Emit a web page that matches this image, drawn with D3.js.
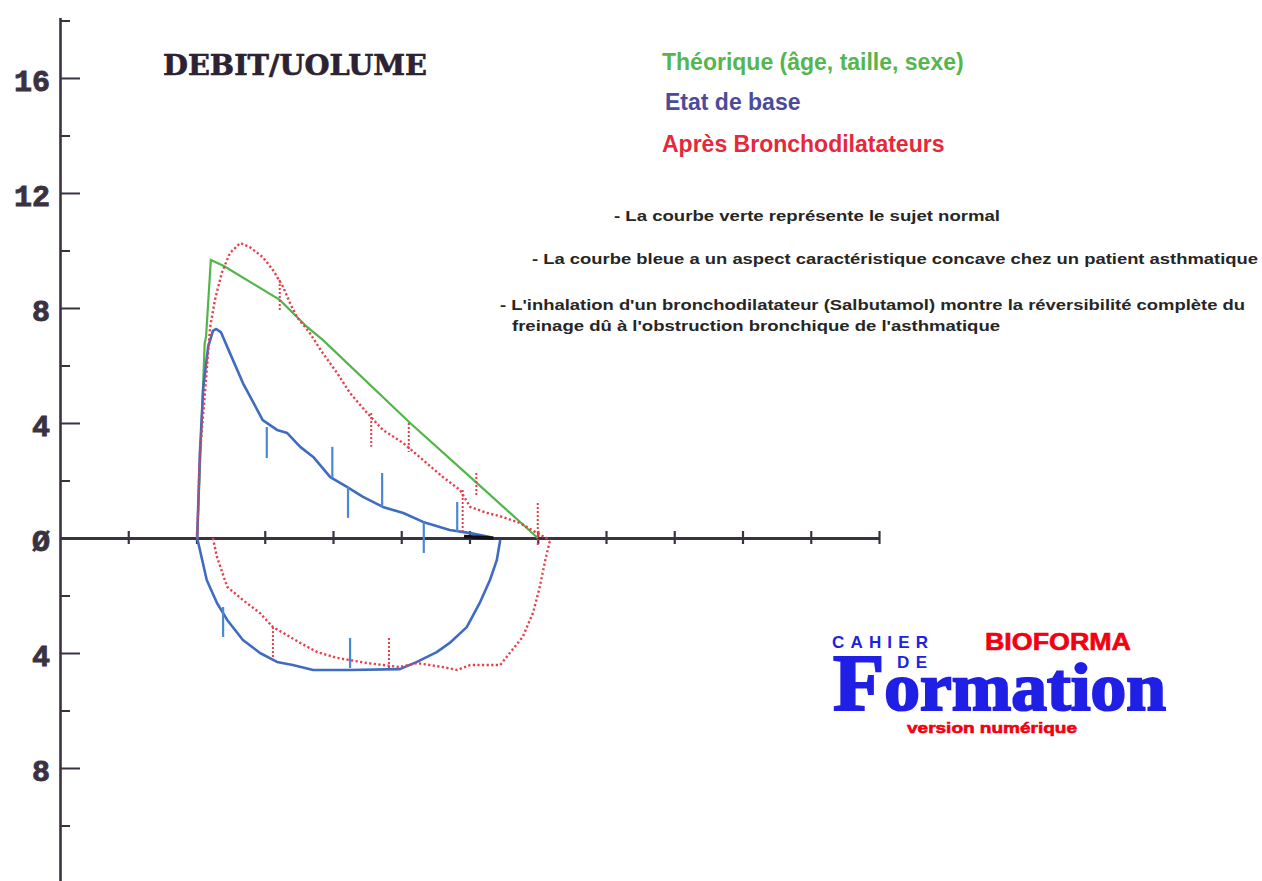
<!DOCTYPE html>
<html>
<head>
<meta charset="utf-8">
<script src="https://cdn.jsdelivr.net/npm/d3@7"></script>
<style>
  body { margin: 0; background: #fff; }
</style>
</head>
<body>
<div id="chart"></div>
<script>
// volume (x axis units) / flow (L/s)
var theorique = [[2.01,0],[2.05,2.47],[2.12,6.78],[2.14,7.0],[2.21,9.67],[2.40,9.46],[3.22,8.28],[3.62,7.34],[3.85,6.89],[5.13,4.0],[6.11,1.91],[7.0,0]];

var baseExp = [[2.01,0],[2.05,2.96],[2.10,5.25],[2.17,6.64],[2.24,7.2],[2.29,7.27],[2.36,7.15],[2.49,6.43],[2.68,5.39],[2.97,4.10],[3.18,3.76],[3.33,3.65],[3.52,3.17],[3.71,2.82],[3.96,2.12],[4.21,1.77],[4.44,1.43],[4.73,1.08],[5.03,0.87],[5.32,0.56],[5.71,0.28],[6.01,0.17],[6.30,0.03]];
var baseInsp = [[2.01,0],[2.05,-0.42],[2.15,-1.46],[2.30,-2.26],[2.45,-2.85],[2.68,-3.55],[2.93,-4.0],[3.18,-4.31],[3.41,-4.42],[3.71,-4.59],[4.25,-4.59],[4.98,-4.56],[5.23,-4.31],[5.52,-3.97],[5.71,-3.65],[5.96,-3.10],[6.15,-2.26],[6.30,-1.46],[6.40,-0.77],[6.45,-0.07]];

var bdExp = [[2.01,0],[2.05,2.96],[2.10,4.35],[2.15,5.84],[2.20,7.34],[2.27,8.28],[2.37,9.22],[2.49,9.91],[2.64,10.26],[2.78,10.12],[2.97,9.77],[3.12,9.32],[3.27,8.73],[3.37,8.17],[3.47,7.69],[3.66,7.13],[3.85,6.43],[4.06,5.74],[4.25,5.04],[4.50,4.35],[4.73,3.76],[5.03,3.30],[5.32,2.71],[5.61,2.12],[5.86,1.67],[6.01,1.08],[6.26,0.87],[6.49,0.73],[6.74,0.52],[6.99,0.17],[7.18,-0.07]];
var bdInsp = [[2.24,0],[2.30,-0.66],[2.45,-1.70],[2.68,-2.16],[2.93,-2.61],[3.12,-3.10],[3.27,-3.30],[3.52,-3.65],[3.77,-3.97],[4.06,-4.17],[4.50,-4.35],[4.98,-4.49],[5.23,-4.35],[5.61,-4.49],[5.82,-4.59],[6.01,-4.42],[6.45,-4.42],[6.59,-4.0],[6.78,-3.44],[6.93,-2.61],[7.03,-1.70],[7.11,-0.77],[7.18,-0.07]];

// time marks : [volume, flow top, flow bottom]
var baseMarks = [[3.03,3.86,2.78],[3.99,3.17,2.09],[4.22,1.77,0.70],[4.72,2.26,1.08],[5.33,0.56,-0.52],[5.82,1.25,0.21],[2.39,-2.40,-3.44],[4.25,-3.48,-4.52]];
var bdMarks = [[3.22,8.97,7.93],[4.56,4.35,3.17],[5.11,4.0,2.99],[5.90,1.67,0.17],[6.10,2.26,1.43],[7.0,1.22,-0.24],[3.12,-3.10,-4.17],[4.82,-3.48,-4.52]];
var finSegment = [[5.92,0.05],[6.35,0.0]];

var yMajor = [16, 12, 8, 4, 0, -4, -8];
var yMinor = [18, 14, 10, 6, 2, -2, -6, -10];
var xTicks = [1, 2, 3, 4, 5, 6, 7, 8, 9, 10, 11, 12];

var titre = "DEBIT/UOLUME";
var legende = ["Théorique (âge, taille, sexe)", "Etat de base", "Après Bronchodilatateurs"];
var legendeCouleurs = ["#55b54f", "#4b4b9c", "#e6283a"];
var notes = [
  "- La courbe verte représente le sujet normal",
  "- La courbe bleue a un aspect caractéristique concave chez un patient asthmatique",
  "- L'inhalation d'un bronchodilatateur (Salbutamol) montre la réversibilité complète du",
  "freinage dû à l'obstruction bronchique de l'asthmatique"
];

var svgWidth = 1262;
var svgHeight = 881;
var axisColor = "#3b3241";

var svg = d3.select("#chart")
  .append("svg")
  .attr("width", svgWidth)
  .attr("height", svgHeight)
  .style("background", "#fff");

var x = d3.scaleLinear().domain([0, 12]).range([60, 879]);
var y = d3.scaleLinear().domain([-12, 18.1]).range([883, 17.6]);

// y axis
var yAxisG = svg.append("g")
  .attr("transform", "translate(60,0)")
  .call(d3.axisLeft(y).tickValues(yMajor).tickSizeInner(-20).tickSizeOuter(0).tickPadding(10)
    .tickFormat(d => d === 0 ? "Ø" : Math.abs(d)));
yAxisG.select(".domain").attr("stroke", axisColor).attr("stroke-width", 2.6);
yAxisG.selectAll(".tick line").attr("stroke", axisColor).attr("stroke-width", 2);
yAxisG.selectAll(".tick text")
  .attr("fill", axisColor)
  .attr("stroke", axisColor)
  .attr("stroke-width", 0.9)
  .attr("dy", "0.42em")
  .style("font-family", "'Liberation Mono', monospace")
  .style("font-weight", "bold")
  .style("font-size", "30px");

var yMinorG = svg.append("g")
  .attr("transform", "translate(60,0)")
  .call(d3.axisLeft(y).tickValues(yMinor).tickSizeInner(-10).tickSizeOuter(0).tickFormat(""));
yMinorG.select(".domain").remove();
yMinorG.selectAll(".tick line").attr("stroke", axisColor).attr("stroke-width", 2);

// x axis
var xAxisG = svg.append("g")
  .attr("transform", `translate(0,${y(0)})`)
  .call(d3.axisBottom(x).tickValues(xTicks).tickSizeOuter(0).tickFormat(""));
xAxisG.select(".domain").attr("stroke", axisColor).attr("stroke-width", 2.8);
xAxisG.selectAll(".tick line")
  .attr("y1", -7).attr("y2", 6)
  .attr("stroke", axisColor).attr("stroke-width", 2.2);

// curves
var line = d3.line().x(d => x(d[0])).y(d => y(d[1]));

svg.append("path").datum(theorique)
  .attr("d", line).attr("fill", "none")
  .attr("stroke", "#52b54a").attr("stroke-width", 2.2);

[baseExp, baseInsp].forEach(function(serie) {
  svg.append("path").datum(serie)
    .attr("d", line).attr("fill", "none")
    .attr("stroke", "#3f6cc2").attr("stroke-width", 2.6)
    .attr("stroke-linejoin", "round");
});

[bdExp, bdInsp].forEach(function(serie) {
  svg.append("path").datum(serie)
    .attr("d", line).attr("fill", "none")
    .attr("stroke", "#e5404c").attr("stroke-width", 2.4)
    .attr("stroke-dasharray", "2.2,2.4");
});

svg.selectAll(".baseMark")
  .data(baseMarks)
  .enter()
  .append("line")
  .attr("class", "baseMark")
  .attr("x1", d => x(d[0])).attr("x2", d => x(d[0]))
  .attr("y1", d => y(d[1])).attr("y2", d => y(d[2]))
  .attr("stroke", "#4a88d6").attr("stroke-width", 2.2);

svg.selectAll(".bdMark")
  .data(bdMarks)
  .enter()
  .append("line")
  .attr("class", "bdMark")
  .attr("x1", d => x(d[0])).attr("x2", d => x(d[0]))
  .attr("y1", d => y(d[1])).attr("y2", d => y(d[2]))
  .attr("stroke", "#e5404c").attr("stroke-width", 2)
  .attr("stroke-dasharray", "2,2");

svg.append("path").datum(finSegment)
  .attr("d", line).attr("fill", "none")
  .attr("stroke", "#111").attr("stroke-width", 3.5);

// title
svg.append("text")
  .attr("x", 163).attr("y", 75)
  .attr("textLength", 264).attr("lengthAdjust", "spacingAndGlyphs")
  .attr("fill", "#2b2233").attr("stroke", "#2b2233").attr("stroke-width", 0.6)
  .style("font-family", "'DejaVu Serif', serif")
  .style("font-weight", "bold")
  .style("font-size", "27px")
  .text(titre);

// legend
var legendY = [70, 110, 152];
svg.selectAll(".legende")
  .data(legende)
  .enter()
  .append("text")
  .attr("class", "legende")
  .attr("x", (d, i) => i === 1 ? 665 : 662)
  .attr("y", (d, i) => legendY[i])
  .attr("fill", (d, i) => legendeCouleurs[i])
  .style("font-family", "'Liberation Sans', Arial, sans-serif")
  .style("font-weight", "bold")
  .style("font-size", "23px")
  .text(d => d);

// notes
var noteX = [614, 532, 500, 512];
var noteY = [221, 264, 310, 331];
var noteW = [386, 726, 745, 488];
svg.selectAll(".note")
  .data(notes)
  .enter()
  .append("text")
  .attr("class", "note")
  .attr("x", (d, i) => noteX[i])
  .attr("y", (d, i) => noteY[i])
  .attr("textLength", (d, i) => noteW[i])
  .attr("lengthAdjust", "spacingAndGlyphs")
  .attr("fill", "#262626")
  .style("font-family", "'Liberation Sans', Arial, sans-serif")
  .style("font-weight", "bold")
  .style("font-size", "15.5px")
  .text(d => d);

// logo
var logo = svg.append("g");
logo.append("text")
  .attr("x", 832).attr("y", 648)
  .attr("textLength", 96).attr("lengthAdjust", "spacing")
  .attr("fill", "#2121e0")
  .style("font-family", "'Liberation Sans', Arial, sans-serif")
  .style("font-weight", "bold").style("font-size", "17px")
  .text("CAHIER");
logo.append("text")
  .attr("x", 897).attr("y", 668)
  .attr("textLength", 30).attr("lengthAdjust", "spacing")
  .attr("fill", "#2121e0")
  .style("font-family", "'Liberation Sans', Arial, sans-serif")
  .style("font-weight", "bold").style("font-size", "17px")
  .text("DE");
logo.append("text")
  .attr("x", 985).attr("y", 650)
  .attr("textLength", 146).attr("lengthAdjust", "spacingAndGlyphs")
  .attr("fill", "#f2000f").attr("stroke", "#f2000f").attr("stroke-width", 0.6)
  .style("font-family", "'Liberation Sans', Arial, sans-serif")
  .style("font-weight", "bold").style("font-size", "23px")
  .text("BIOFORMA");
var formation = logo.append("text")
  .attr("x", 833).attr("y", 710)
  .attr("textLength", 333).attr("lengthAdjust", "spacingAndGlyphs")
  .attr("fill", "#1f1fe6").attr("stroke", "#1f1fe6").attr("stroke-width", 2.2)
  .style("font-family", "'Liberation Serif', 'DejaVu Serif', serif")
  .style("font-weight", "bold");
formation.append("tspan").style("font-size", "80px").text("F");
formation.append("tspan").style("font-size", "68px").text("ormation");
logo.append("text")
  .attr("x", 907).attr("y", 733)
  .attr("textLength", 170).attr("lengthAdjust", "spacingAndGlyphs")
  .attr("fill", "#f2000f").attr("stroke", "#f2000f").attr("stroke-width", 0.6)
  .style("font-family", "'Liberation Sans', Arial, sans-serif")
  .style("font-weight", "bold").style("font-size", "15px")
  .text("version numérique");
</script>
</body>
</html>
